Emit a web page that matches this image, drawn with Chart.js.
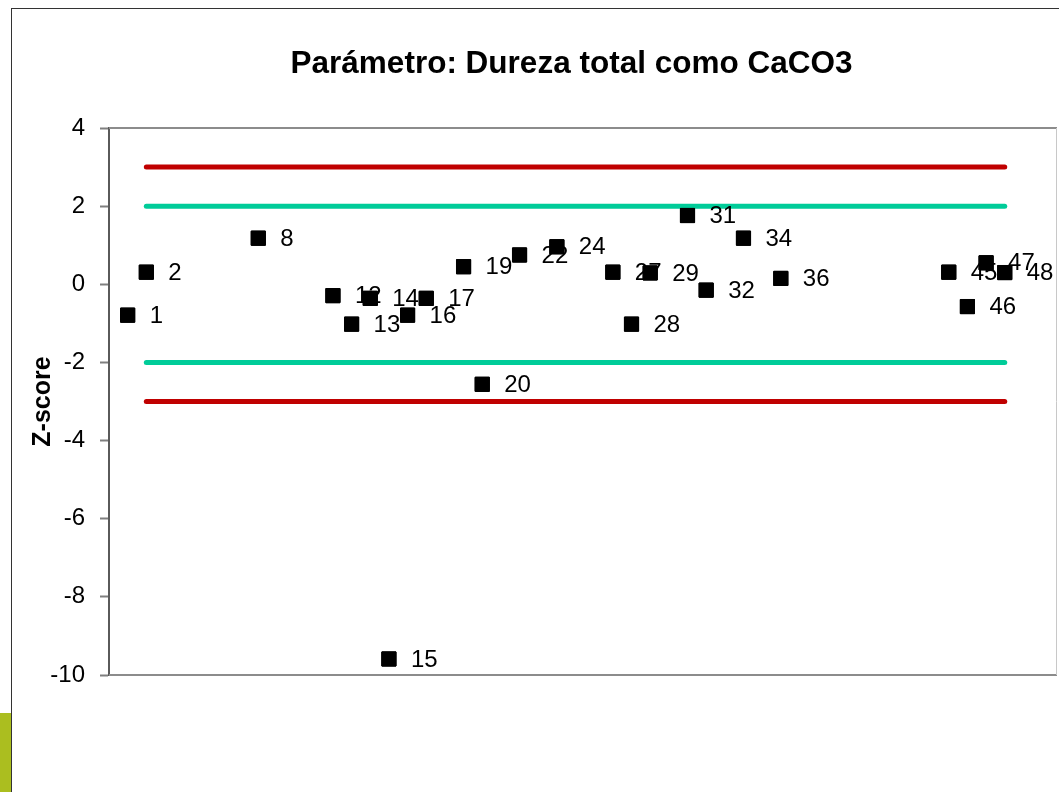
<!DOCTYPE html>
<html>
<head>
<meta charset="utf-8">
<script src="https://cdn.jsdelivr.net/npm/chart.js@4/dist/chart.umd.min.js"></script>
<style>
  html, body { margin: 0; padding: 0; width: 100vw; height: 100vh; background: #fff; overflow: hidden; }
  #frame { position: absolute; left: 11px; top: 8px; width: 1100px; height: 800px; border-left: 1px solid #333; border-top: 1px solid #333; }
  #tab { position: absolute; left: 0; top: 713px; width: 11px; height: 79px; background: #abbe1f; }
  #wrap { position: absolute; left: 12px; top: 9px; width: 1047px; height: 783px; }
</style>
</head>
<body>
<div id="frame"></div>
<div id="tab"></div>
<div id="wrap"><canvas id="chart"></canvas></div>
<script>
// lab ids and their z-scores, in plotting order
const ids     = [1, 2, 8, 12, 13, 14, 15, 16, 17, 19, 20, 22, 24, 27, 28, 29, 31, 32, 34, 36, 45, 46, 47, 48];
const zScores = [-0.79, 0.31, 1.18, -0.29, -1.02, -0.36, -9.59, -0.79, -0.36, 0.45, -2.56, 0.75, 0.96, 0.31, -1.02, 0.29, 1.76, -0.15, 1.18, 0.15, 0.31, -0.57, 0.55, 0.30];

// control limits drawn from lab 2 to lab 48
const limitX = [2, 48];
const warnLimit = 2;
const actionLimit = 3;

const yTicks = [4, 2, 0, -2, -4, -6, -8, -10];
const titleText = 'Parámetro: Dureza total como CaCO3';
const yTitle = 'Z-score';

const FONT = '"Liberation Sans", Arial, sans-serif';
Chart.defaults.font.family = FONT;
Chart.defaults.color = '#000';

const points = ids.map((id, i) => ({ x: id, y: zScores[i] }));
const limitLine = v => limitX.map(x => ({ x: x, y: v }));

// plot area border (top, bottom, right)
const plotFrame = {
  id: 'plotFrame',
  beforeDatasetsDraw(chart) {
    const { ctx } = chart;
    const { left, right, top, bottom } = chart.chartArea;
    ctx.save();
    ctx.strokeStyle = '#8c8c8c';
    ctx.lineWidth = 2;
    ctx.beginPath();
    ctx.moveTo(left, top); ctx.lineTo(right, top);
    ctx.moveTo(left, bottom); ctx.lineTo(right, bottom);
    ctx.stroke();
    ctx.strokeStyle = '#c8c8c8';
    ctx.lineWidth = 1;
    ctx.beginPath();
    ctx.moveTo(right - 0.5, top); ctx.lineTo(right - 0.5, bottom);
    ctx.stroke();
    ctx.restore();
  }
};

// each marker followed by its id, so later markers cover earlier labels
const pointLabels = {
  id: 'pointLabels',
  afterDatasetsDraw(chart) {
    const ctx = chart.ctx;
    const meta = chart.getDatasetMeta(0);
    meta.data.forEach((pt, i) => {
      pt.draw(ctx);
      ctx.save();
      ctx.font = '24px ' + FONT;
      ctx.fillStyle = '#000';
      ctx.textAlign = 'left';
      ctx.textBaseline = 'middle';
      ctx.fillText(String(ids[i]), pt.x + 22, pt.y + 1);
      ctx.restore();
    });
  }
};

const chartTitle = {
  id: 'chartTitle',
  afterDraw(chart) {
    const ctx = chart.ctx;
    ctx.save();
    ctx.font = 'bold 31.5px ' + FONT;
    ctx.fillStyle = '#000';
    ctx.textAlign = 'center';
    ctx.textBaseline = 'alphabetic';
    ctx.fillText(titleText, 559.5, 63.5);
    ctx.restore();
  }
};

new Chart(document.getElementById('chart'), {
  type: 'scatter',
  data: {
    datasets: [
      {
        label: 'Z-score',
        data: points,
        pointStyle: 'rect',
        pointRadius: 10,
        pointBorderWidth: 1,
        backgroundColor: '#000',
        borderColor: '#000',
        showLine: false,
        clip: false
      },
      {
        label: '+3', data: limitLine(actionLimit), type: 'line',
        borderColor: '#c00000', borderWidth: 5, borderCapStyle: 'round', pointRadius: 0
      },
      {
        label: '+2', data: limitLine(warnLimit), type: 'line',
        borderColor: '#00cc99', borderWidth: 5, borderCapStyle: 'round', pointRadius: 0
      },
      {
        label: '-2', data: limitLine(-warnLimit), type: 'line',
        borderColor: '#00cc99', borderWidth: 5, borderCapStyle: 'round', pointRadius: 0
      },
      {
        label: '-3', data: limitLine(-actionLimit), type: 'line',
        borderColor: '#c00000', borderWidth: 5, borderCapStyle: 'round', pointRadius: 0
      }
    ]
  },
  options: {
    responsive: true,
    maintainAspectRatio: false,
    animation: false,
    layout: { autoPadding: false, padding: { top: 119, right: 2, bottom: 117, left: 0 } },
    scales: {
      x: { type: 'linear', display: false, min: 0, max: 50.8 },
      y: {
        min: -10,
        max: 4,
        afterBuildTicks: s => { s.ticks = yTicks.map(v => ({ value: v })); },
        afterFit: s => { s.width = 97; },
        ticks: { font: { size: 24 }, padding: 15, color: '#000' },
        grid: { drawOnChartArea: false, drawTicks: true, tickLength: 9, tickColor: '#7f7f7f', tickWidth: 2 },
        border: { display: true, color: '#5a5a5a', width: 2 },
        title: { display: true, text: yTitle, font: { size: 25, weight: 'bold' }, padding: { top: 16 } }
      }
    },
    plugins: {
      legend: { display: false },
      tooltip: { enabled: false }
    }
  },
  plugins: [plotFrame, pointLabels, chartTitle]
});
</script>
</body>
</html>
